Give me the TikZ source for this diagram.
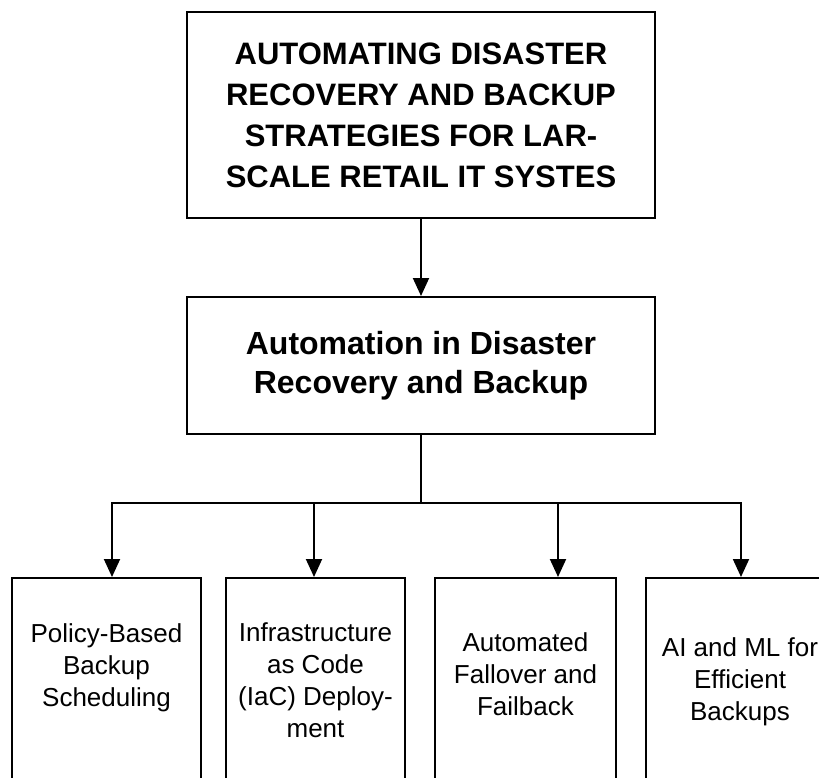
\documentclass[tikz,border=0pt]{standalone}
\usepackage{fontspec}
\setmainfont{Liberation Sans}
\usetikzlibrary{arrows.meta,positioning}

\begin{document}
\begin{tikzpicture}[x=1pt, y=-1pt,
    box/.style={draw, line width=2pt, align=center, inner sep=0pt},
    topbox/.style={box, minimum width=468pt, minimum height=206pt, font=\bfseries\fontsize{31}{41}\selectfont},
    midbox/.style={box, minimum width=468pt, minimum height=137pt, font=\bfseries\fontsize{32}{39}\selectfont},
    leaf/.style={box, anchor=north, minimum height=230pt},
    leaftext/.style={align=center, font=\fontsize{26}{32}\selectfont},
    link/.style={line width=1.9pt, line cap=rect},
    arr/.style={line width=1.9pt, -{Triangle[length=18pt, width=16pt]}}]
        \useasboundingbox (0,0) rectangle (819,778);
        \clip (0,0) rectangle (819,778);

        % Naslov i glavni blok
        \node[topbox] (title) at (421,115) {AUTOMATING DISASTER\\RECOVERY AND BACKUP\\STRATEGIES FOR LAR-\\SCALE RETAIL IT SYSTES};
        \node[midbox] (auto) at (421,365.5) {Automation in Disaster\\Recovery and Backup};
        \draw[arr] (title) -- (auto);

        % Donji blokovi
        \node[leaf, minimum width=189pt] (policy) at (106.5,577) {};
        \node[leaf, minimum width=179pt] (iac) at (315.5,577) {};
        \node[leaf, minimum width=181pt] (failover) at (525.5,577) {};
        \node[leaf, minimum width=188pt] (aiml) at (740,577) {};

        \node[leaftext] (policytext) at ([yshift=-91pt]policy.north) {Policy-Based\\Backup\\Scheduling};
        \node[leaftext] (iactext) at ([yshift=-103pt]iac.north) {Infrastructure\\as Code\\(IaC) Deploy-\\ment};
        \node[leaftext] (failovertext) at ([yshift=-97pt]failover.north) {Automated\\Fallover and\\Failback};
        \node[leaftext] (aimltext) at ([yshift=-105pt]aiml.north) {AI and ML for\\Efficient\\Backups};

        % Grananje
        \coordinate (tap1) at (112,503);
        \coordinate (tap2) at (314,503);
        \coordinate (tap3) at (558,503);
        \coordinate (tap4) at (741,503);
        \draw[link] (auto) -- (auto.south |- tap1);
        \draw[link] (tap1) -- (tap4);
        \draw[arr] (tap1) -- (tap1 |- policy.north);
        \draw[arr] (tap2) -- (tap2 |- iac.north);
        \draw[arr] (tap3) -- (tap3 |- failover.north);
        \draw[arr] (tap4) -- (tap4 |- aiml.north);
    \end{tikzpicture}
\end{document}
